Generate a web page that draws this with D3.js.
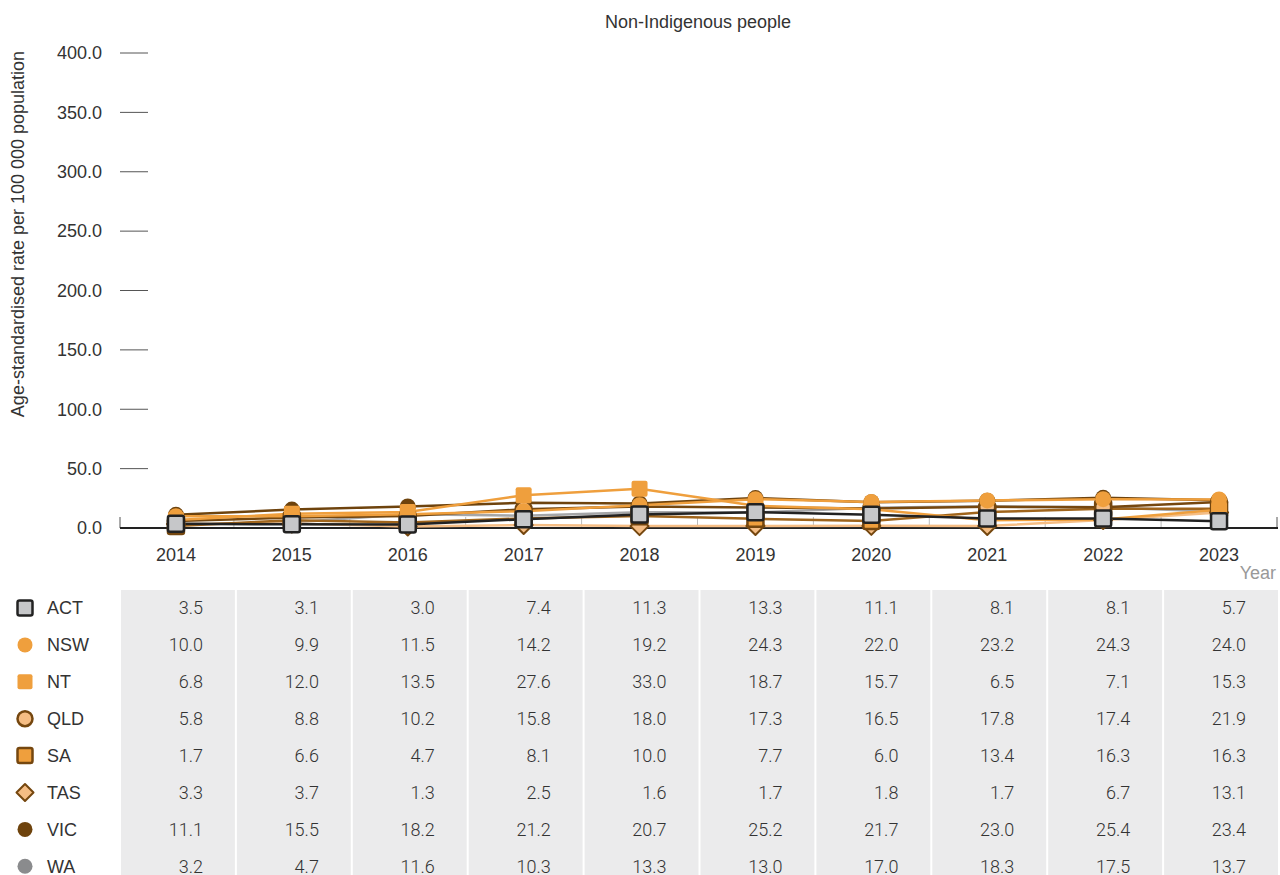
<!DOCTYPE html>
<html>
<head>
<meta charset="utf-8">
<script src="https://cdn.jsdelivr.net/npm/d3@7"></script>
<style>
  html, body { margin: 0; padding: 0; background: #fff; }
  svg { display: block; font-family: "Liberation Sans", Arial, sans-serif; }
</style>
</head>
<body>
<svg id="chart" width="1280" height="875"></svg>
<script>
// Age-standardised rates, non-Indigenous people, by jurisdiction
const years = ["2014", "2015", "2016", "2017", "2018", "2019", "2020", "2021", "2022", "2023"];
const jurisdictions = ["ACT", "NSW", "NT", "QLD", "SA", "TAS", "VIC", "WA"];
const ACT = [3.5, 3.1, 3.0, 7.4, 11.3, 13.3, 11.1, 8.1, 8.1, 5.7];
const NSW = [10.0, 9.9, 11.5, 14.2, 19.2, 24.3, 22.0, 23.2, 24.3, 24.0];
const NT  = [6.8, 12.0, 13.5, 27.6, 33.0, 18.7, 15.7, 6.5, 7.1, 15.3];
const QLD = [5.8, 8.8, 10.2, 15.8, 18.0, 17.3, 16.5, 17.8, 17.4, 21.9];
const SA  = [1.7, 6.6, 4.7, 8.1, 10.0, 7.7, 6.0, 13.4, 16.3, 16.3];
const TAS = [3.3, 3.7, 1.3, 2.5, 1.6, 1.7, 1.8, 1.7, 6.7, 13.1];
const VIC = [11.1, 15.5, 18.2, 21.2, 20.7, 25.2, 21.7, 23.0, 25.4, 23.4];
const WA  = [3.2, 4.7, 11.6, 10.3, 13.3, 13.0, 17.0, 18.3, 17.5, 13.7];
const yTicks = [0, 50, 100, 150, 200, 250, 300, 350, 400];

const valuesBy = { ACT, NSW, NT, QLD, SA, TAS, VIC, WA };

// Marker and line styling per jurisdiction
const style = {
  ACT: { shape: "square",  fill: "#c6c7c9", stroke: "#222222", line: "#222222" },
  NSW: { shape: "circle",  fill: "#ef9f3d", stroke: "none",    line: "#ef9f3d" },
  NT:  { shape: "square",  fill: "#ef9f3d", stroke: "none",    line: "#ef9f3d" },
  QLD: { shape: "circle",  fill: "#f5bd84", stroke: "#75470f", line: "#75470f" },
  SA:  { shape: "square",  fill: "#ef9f3d", stroke: "#75470f", line: "#a0651c" },
  TAS: { shape: "diamond", fill: "#f5bd84", stroke: "#75470f", line: "#f5bd84" },
  VIC: { shape: "circle",  fill: "#6e430d", stroke: "none",    line: "#6e430d" },
  WA:  { shape: "circle",  fill: "#8a8b8d", stroke: "none",    line: "#a5a6a8" }
};

const svg = d3.select("#chart");
const textColor = "#333333";

const x = d3.scaleBand().domain(years).range([118, 1277]);
const y = d3.scaleLinear().domain([0, 400]).range([528, 53]);

// Title
svg.append("text")
  .attr("x", 698).attr("y", 28)
  .attr("text-anchor", "middle")
  .attr("font-size", 18).attr("fill", textColor)
  .text("Non-Indigenous people");

// Y axis title
svg.append("text")
  .attr("transform", `translate(24, 234) rotate(-90)`)
  .attr("text-anchor", "middle")
  .attr("font-size", 18).attr("fill", textColor)
  .text("Age-standardised rate per 100 000 population");

// Y axis: short tick lines and labels
const yAxis = svg.append("g");
yTicks.forEach(t => {
  yAxis.append("line")
    .attr("x1", 120).attr("x2", 148)
    .attr("y1", y(t)).attr("y2", y(t))
    .attr("stroke", "#555").attr("stroke-width", 1);
  yAxis.append("text")
    .attr("x", 102).attr("y", y(t))
    .attr("dy", "0.35em")
    .attr("text-anchor", "end")
    .attr("font-size", 18).attr("fill", textColor)
    .text(d3.format(".1f")(t));
});

// Column boundary ticks along the baseline
const boundaries = years.map(d => x(d)).concat([x.range()[1]]);
boundaries.forEach((bx, i) => {
  svg.append("line")
    .attr("x1", i === 0 ? 120 : bx).attr("x2", i === 0 ? 120 : bx)
    .attr("y1", 517).attr("y2", 528)
    .attr("stroke", (i === 0 || i === boundaries.length - 1) ? "#555" : "#bbb")
    .attr("stroke-width", 1);
});

// Baseline
svg.append("line")
  .attr("x1", 120).attr("x2", 1278)
  .attr("y1", y(0)).attr("y2", y(0))
  .attr("stroke", "#222").attr("stroke-width", 2);

// X axis labels
years.forEach(yr => {
  svg.append("text")
    .attr("x", x(yr) + x.bandwidth() / 2).attr("y", 561)
    .attr("text-anchor", "middle")
    .attr("font-size", 18).attr("fill", textColor)
    .text(yr);
});
svg.append("text")
  .attr("x", 1276).attr("y", 579)
  .attr("text-anchor", "end")
  .attr("font-size", 18).attr("fill", "#999")
  .text("Year");

// Marker drawing helper
function drawMarker(g, shape, cx, cy, size, s) {
  if (shape === "circle") {
    g.append("circle").attr("cx", cx).attr("cy", cy).attr("r", size / 2)
      .attr("fill", s.fill).attr("stroke", s.stroke).attr("stroke-width", 2.5);
  } else if (shape === "square") {
    const h = size / 2;
    g.append("rect").attr("x", cx - h).attr("y", cy - h)
      .attr("width", size).attr("height", size).attr("rx", 2)
      .attr("fill", s.fill).attr("stroke", s.stroke).attr("stroke-width", 2.5);
  } else if (shape === "diamond") {
    const h = size / 2 + 1;
    g.append("path")
      .attr("d", `M${cx},${cy - h}L${cx + h},${cy}L${cx},${cy + h}L${cx - h},${cy}Z`)
      .attr("fill", s.fill).attr("stroke", s.stroke).attr("stroke-width", 2)
      .attr("stroke-linejoin", "round");
  }
}

// Lines and markers, drawn in reverse so ACT sits on top
const plot = svg.append("g");
const line = d3.line()
  .x((d, i) => x(years[i]) + x.bandwidth() / 2)
  .y(d => y(d));

const order = jurisdictions.slice().reverse();
order.forEach(j => {
  plot.append("path")
    .datum(valuesBy[j])
    .attr("d", line)
    .attr("fill", "none")
    .attr("stroke", style[j].line)
    .attr("stroke-width", 2.5);
});
order.forEach(j => {
  const g = plot.append("g");
  valuesBy[j].forEach((v, i) => {
    drawMarker(g, style[j].shape, x(years[i]) + x.bandwidth() / 2, y(v), 16, style[j]);
  });
});

// Data table below the chart
const rowTop = 590;
const rowStep = 36.9;
const table = svg.append("g");
years.forEach((yr, i) => {
  table.append("rect")
    .attr("x", x(yr) + 3).attr("y", rowTop)
    .attr("width", x.bandwidth() - 2).attr("height", 875 - rowTop)
    .attr("fill", "#ebebec");
});
jurisdictions.forEach((j, r) => {
  const cy = rowTop + 18 + r * rowStep;
  drawMarker(table, style[j].shape, 25, cy, 15, style[j]);
  table.append("text")
    .attr("x", 47).attr("y", cy).attr("dy", "0.35em")
    .attr("font-size", 18).attr("fill", textColor)
    .text(j);
  valuesBy[j].forEach((v, i) => {
    table.append("text")
      .attr("x", x(years[i]) + 85).attr("y", cy).attr("dy", "0.35em")
      .attr("text-anchor", "end")
      .attr("font-family", "Roboto, sans-serif")
      .attr("font-weight", 300)
      .attr("font-size", 18).attr("fill", textColor)
      .text(d3.format(".1f")(v));
  });
});
</script>
</body>
</html>
